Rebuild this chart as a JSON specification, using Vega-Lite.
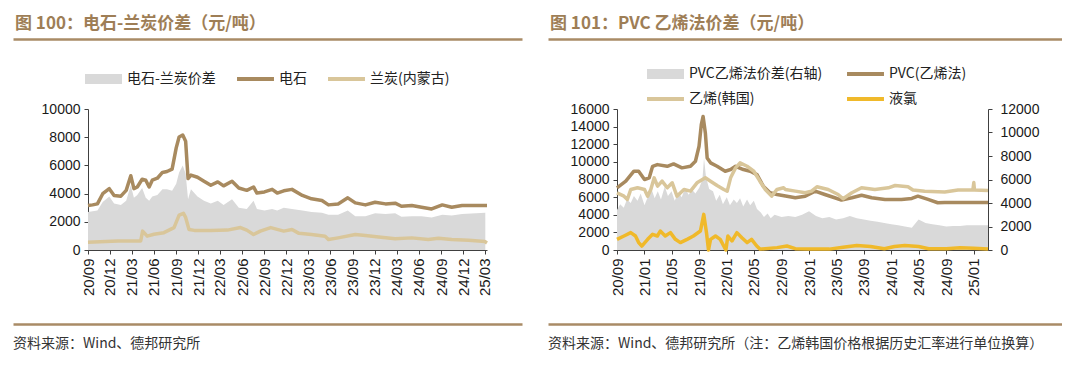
{
  "$schema": "https://vega.github.io/schema/vega-lite/v6.json",
  "background": "white",
  "padding": {"left": 13, "top": 15, "right": 0, "bottom": 0},
  "config": {
    "view": {"stroke": null},
    "font": "Noto Sans CJK SC",
    "axis": {"grid": false, "domainColor": "#404040", "tickColor": "#404040", "labelColor": "#1a1a1a", "labelFont": "Liberation Sans", "labelFontSize": 14, "tickSize": 4}
  },
  "datasets": {
    "one": [{"x": 0.5}],
    "left": [
      {"d":"2020-09-01","s":"电石-兰炭价差","v":2700},{"d":"2020-10-10","s":"电石-兰炭价差","v":2800},{"d":"2020-11-01","s":"电石-兰炭价差","v":3400},{"d":"2020-11-28","s":"电石-兰炭价差","v":3800},{"d":"2020-12-18","s":"电石-兰炭价差","v":3300},{"d":"2021-01-15","s":"电石-兰炭价差","v":3200},{"d":"2021-02-06","s":"电石-兰炭价差","v":3500},{"d":"2021-02-25","s":"电石-兰炭价差","v":4600},{"d":"2021-03-10","s":"电石-兰炭价差","v":3700},{"d":"2021-03-24","s":"电石-兰炭价差","v":3900},{"d":"2021-04-13","s":"电石-兰炭价差","v":4400},{"d":"2021-04-28","s":"电石-兰炭价差","v":3700},{"d":"2021-05-12","s":"电石-兰炭价差","v":3500},{"d":"2021-05-25","s":"电石-兰炭价差","v":3800},{"d":"2021-06-15","s":"电石-兰炭价差","v":3900},{"d":"2021-07-06","s":"电石-兰炭价差","v":4300},{"d":"2021-07-25","s":"电石-兰炭价差","v":4300},{"d":"2021-08-15","s":"电石-兰炭价差","v":4200},{"d":"2021-09-01","s":"电石-兰炭价差","v":4700},{"d":"2021-09-13","s":"电石-兰炭价差","v":5500},{"d":"2021-09-28","s":"电石-兰炭价差","v":6000},{"d":"2021-10-10","s":"电石-兰炭价差","v":5400},{"d":"2021-10-20","s":"电石-兰炭价差","v":3600},{"d":"2021-11-01","s":"电石-兰炭价差","v":4300},{"d":"2021-11-28","s":"电石-兰炭价差","v":3800},{"d":"2021-12-25","s":"电石-兰炭价差","v":3500},{"d":"2022-01-22","s":"电石-兰炭价差","v":3300},{"d":"2022-02-20","s":"电石-兰炭价差","v":3500},{"d":"2022-03-16","s":"电石-兰炭价差","v":3200},{"d":"2022-04-20","s":"电石-兰炭价差","v":3600},{"d":"2022-05-18","s":"电石-兰炭价差","v":3000},{"d":"2022-06-20","s":"电石-兰炭价差","v":2900},{"d":"2022-07-18","s":"电石-兰炭价差","v":3500},{"d":"2022-08-01","s":"电石-兰炭价差","v":2900},{"d":"2022-09-01","s":"电石-兰炭价差","v":2800},{"d":"2022-10-03","s":"电石-兰炭价差","v":2900},{"d":"2022-10-24","s":"电石-兰炭价差","v":2800},{"d":"2022-11-20","s":"电石-兰炭价差","v":3000},{"d":"2022-12-24","s":"电石-兰炭价差","v":2900},{"d":"2023-02-05","s":"电石-兰炭价差","v":2800},{"d":"2023-03-15","s":"电石-兰炭价差","v":2700},{"d":"2023-04-27","s":"电石-兰炭价差","v":2650},{"d":"2023-05-24","s":"电石-兰炭价差","v":2500},{"d":"2023-07-03","s":"电石-兰炭价差","v":2500},{"d":"2023-08-12","s":"电石-兰炭价差","v":2800},{"d":"2023-09-12","s":"电石-兰炭价差","v":2400},{"d":"2023-10-24","s":"电石-兰炭价差","v":2400},{"d":"2023-12-03","s":"电石-兰炭价差","v":2600},{"d":"2024-01-15","s":"电石-兰炭价差","v":2550},{"d":"2024-02-24","s":"电石-兰炭价差","v":2600},{"d":"2024-03-21","s":"电石-兰炭价差","v":2350},{"d":"2024-05-03","s":"电石-兰炭价差","v":2400},{"d":"2024-06-12","s":"电石-兰炭价差","v":2400},{"d":"2024-07-24","s":"电石-兰炭价差","v":2300},{"d":"2024-09-06","s":"电石-兰炭价差","v":2500},{"d":"2024-10-15","s":"电石-兰炭价差","v":2450},{"d":"2024-11-27","s":"电石-兰炭价差","v":2550},{"d":"2025-03-03","s":"电石-兰炭价差","v":2650},
      {"d":"2020-09-01","s":"电石","v":3150},{"d":"2020-09-20","s":"电石","v":3200},{"d":"2020-10-10","s":"电石","v":3270},{"d":"2020-11-01","s":"电石","v":3990},{"d":"2020-11-28","s":"电石","v":4350},{"d":"2020-12-18","s":"电石","v":3870},{"d":"2021-01-15","s":"电石","v":3820},{"d":"2021-02-06","s":"电石","v":4230},{"d":"2021-02-25","s":"电石","v":5270},{"d":"2021-03-10","s":"电石","v":4350},{"d":"2021-03-24","s":"电石","v":4470},{"d":"2021-04-13","s":"电石","v":5020},{"d":"2021-04-28","s":"电石","v":4950},{"d":"2021-05-12","s":"电石","v":4470},{"d":"2021-05-25","s":"电石","v":4950},{"d":"2021-06-15","s":"电石","v":5090},{"d":"2021-07-06","s":"电石","v":5500},{"d":"2021-07-25","s":"电石","v":5570},{"d":"2021-08-15","s":"电石","v":5740},{"d":"2021-09-01","s":"电石","v":7240},{"d":"2021-09-13","s":"电石","v":8010},{"d":"2021-09-28","s":"电石","v":8150},{"d":"2021-10-10","s":"电石","v":7720},{"d":"2021-10-20","s":"电石","v":5070},{"d":"2021-11-01","s":"电石","v":5310},{"d":"2021-11-28","s":"电石","v":5160},{"d":"2021-12-25","s":"电石","v":4880},{"d":"2022-01-22","s":"电石","v":4590},{"d":"2022-02-20","s":"电石","v":4830},{"d":"2022-03-16","s":"电石","v":4550},{"d":"2022-04-20","s":"电石","v":4880},{"d":"2022-05-18","s":"电石","v":4400},{"d":"2022-06-20","s":"电石","v":4230},{"d":"2022-07-18","s":"电石","v":4470},{"d":"2022-08-01","s":"电石","v":4040},{"d":"2022-09-01","s":"电石","v":4120},{"d":"2022-10-03","s":"电石","v":4300},{"d":"2022-10-24","s":"电石","v":4040},{"d":"2022-11-20","s":"电石","v":4200},{"d":"2022-12-24","s":"电石","v":4300},{"d":"2023-02-05","s":"电石","v":3870},{"d":"2023-03-15","s":"电石","v":3630},{"d":"2023-04-27","s":"电石","v":3510},{"d":"2023-05-24","s":"电石","v":3200},{"d":"2023-07-03","s":"电石","v":3270},{"d":"2023-08-12","s":"电石","v":3700},{"d":"2023-09-12","s":"电石","v":3340},{"d":"2023-10-24","s":"电石","v":3200},{"d":"2023-12-03","s":"电石","v":3390},{"d":"2024-01-15","s":"电石","v":3270},{"d":"2024-02-24","s":"电石","v":3320},{"d":"2024-03-21","s":"电石","v":3100},{"d":"2024-05-03","s":"电石","v":3150},{"d":"2024-06-12","s":"电石","v":3030},{"d":"2024-07-24","s":"电石","v":2910},{"d":"2024-09-06","s":"电石","v":3200},{"d":"2024-10-15","s":"电石","v":3030},{"d":"2024-11-27","s":"电石","v":3150},{"d":"2025-03-10","s":"电石","v":3150},
      {"d":"2020-09-01","s":"兰炭(内蒙古)","v":550},{"d":"2021-01-03","s":"兰炭(内蒙古)","v":640},{"d":"2021-04-07","s":"兰炭(内蒙古)","v":640},{"d":"2021-04-15","s":"兰炭(内蒙古)","v":1340},{"d":"2021-05-04","s":"兰炭(内蒙古)","v":980},{"d":"2021-06-01","s":"兰炭(内蒙古)","v":1120},{"d":"2021-07-12","s":"兰炭(内蒙古)","v":1230},{"d":"2021-08-23","s":"兰炭(内蒙古)","v":1590},{"d":"2021-09-13","s":"兰炭(内蒙古)","v":2470},{"d":"2021-10-01","s":"兰炭(内蒙古)","v":2600},{"d":"2021-10-10","s":"兰炭(内蒙古)","v":2310},{"d":"2021-10-24","s":"兰炭(内蒙古)","v":1460},{"d":"2021-11-15","s":"兰炭(内蒙古)","v":1390},{"d":"2022-01-22","s":"兰炭(内蒙古)","v":1390},{"d":"2022-04-01","s":"兰炭(内蒙古)","v":1410},{"d":"2022-05-25","s":"兰炭(内蒙古)","v":1590},{"d":"2022-06-20","s":"兰炭(内蒙古)","v":1410},{"d":"2022-07-18","s":"兰炭(内蒙古)","v":1100},{"d":"2022-08-15","s":"兰炭(内蒙古)","v":1340},{"d":"2022-09-27","s":"兰炭(内蒙古)","v":1590},{"d":"2022-11-20","s":"兰炭(内蒙古)","v":1340},{"d":"2022-12-24","s":"兰炭(内蒙古)","v":1460},{"d":"2023-01-22","s":"兰炭(内蒙古)","v":1180},{"d":"2023-03-15","s":"兰炭(内蒙古)","v":1100},{"d":"2023-05-10","s":"兰炭(内蒙古)","v":980},{"d":"2023-05-24","s":"兰炭(内蒙古)","v":740},{"d":"2023-07-03","s":"兰炭(内蒙古)","v":860},{"d":"2023-09-12","s":"兰炭(内蒙古)","v":1100},{"d":"2023-10-24","s":"兰炭(内蒙古)","v":1030},{"d":"2023-12-18","s":"兰炭(内蒙古)","v":930},{"d":"2024-02-24","s":"兰炭(内蒙古)","v":790},{"d":"2024-05-03","s":"兰炭(内蒙古)","v":860},{"d":"2024-07-10","s":"兰炭(内蒙古)","v":740},{"d":"2024-08-21","s":"兰炭(内蒙古)","v":830},{"d":"2024-10-15","s":"兰炭(内蒙古)","v":740},{"d":"2024-12-24","s":"兰炭(内蒙古)","v":690},{"d":"2025-03-01","s":"兰炭(内蒙古)","v":600},{"d":"2025-03-10","s":"兰炭(内蒙古)","v":500}
    ],
    "right": [
      {"d":"2020-09-01","s":"PVC乙烯法价差(右轴)","v":3400},{"d":"2020-09-15","s":"PVC乙烯法价差(右轴)","v":3900},{"d":"2020-10-01","s":"PVC乙烯法价差(右轴)","v":3600},{"d":"2020-10-15","s":"PVC乙烯法价差(右轴)","v":4300},{"d":"2020-11-01","s":"PVC乙烯法价差(右轴)","v":4000},{"d":"2020-11-15","s":"PVC乙烯法价差(右轴)","v":4600},{"d":"2020-12-01","s":"PVC乙烯法价差(右轴)","v":4200},{"d":"2020-12-15","s":"PVC乙烯法价差(右轴)","v":4800},{"d":"2021-01-01","s":"PVC乙烯法价差(右轴)","v":3800},{"d":"2021-01-15","s":"PVC乙烯法价差(右轴)","v":4500},{"d":"2021-02-01","s":"PVC乙烯法价差(右轴)","v":5200},{"d":"2021-02-15","s":"PVC乙烯法价差(右轴)","v":4400},{"d":"2021-03-01","s":"PVC乙烯法价差(右轴)","v":5000},{"d":"2021-03-15","s":"PVC乙烯法价差(右轴)","v":4300},{"d":"2021-04-01","s":"PVC乙烯法价差(右轴)","v":5400},{"d":"2021-04-15","s":"PVC乙烯法价差(右轴)","v":4600},{"d":"2021-05-01","s":"PVC乙烯法价差(右轴)","v":5000},{"d":"2021-05-15","s":"PVC乙烯法价差(右轴)","v":4200},{"d":"2021-06-01","s":"PVC乙烯法价差(右轴)","v":4900},{"d":"2021-06-15","s":"PVC乙烯法价差(右轴)","v":4500},{"d":"2021-07-01","s":"PVC乙烯法价差(右轴)","v":5300},{"d":"2021-07-15","s":"PVC乙烯法价差(右轴)","v":4700},{"d":"2021-08-01","s":"PVC乙烯法价差(右轴)","v":5100},{"d":"2021-08-15","s":"PVC乙烯法价差(右轴)","v":4800},{"d":"2021-09-01","s":"PVC乙烯法价差(右轴)","v":5300},{"d":"2021-09-15","s":"PVC乙烯法价差(右轴)","v":6000},{"d":"2021-09-22","s":"PVC乙烯法价差(右轴)","v":7800},{"d":"2021-10-01","s":"PVC乙烯法价差(右轴)","v":6200},{"d":"2021-10-15","s":"PVC乙烯法价差(右轴)","v":5200},{"d":"2021-11-01","s":"PVC乙烯法价差(右轴)","v":5000},{"d":"2021-11-15","s":"PVC乙烯法价差(右轴)","v":4200},{"d":"2021-12-01","s":"PVC乙烯法价差(右轴)","v":4700},{"d":"2021-12-15","s":"PVC乙烯法价差(右轴)","v":3900},{"d":"2022-01-01","s":"PVC乙烯法价差(右轴)","v":4500},{"d":"2022-01-15","s":"PVC乙烯法价差(右轴)","v":3800},{"d":"2022-02-01","s":"PVC乙烯法价差(右轴)","v":4300},{"d":"2022-02-15","s":"PVC乙烯法价差(右轴)","v":4000},{"d":"2022-03-01","s":"PVC乙烯法价差(右轴)","v":4400},{"d":"2022-03-15","s":"PVC乙烯法价差(右轴)","v":3700},{"d":"2022-04-01","s":"PVC乙烯法价差(右轴)","v":4300},{"d":"2022-04-15","s":"PVC乙烯法价差(右轴)","v":3800},{"d":"2022-05-01","s":"PVC乙烯法价差(右轴)","v":4200},{"d":"2022-05-15","s":"PVC乙烯法价差(右轴)","v":3500},{"d":"2022-06-01","s":"PVC乙烯法价差(右轴)","v":3200},{"d":"2022-06-15","s":"PVC乙烯法价差(右轴)","v":2800},{"d":"2022-07-01","s":"PVC乙烯法价差(右轴)","v":3100},{"d":"2022-07-15","s":"PVC乙烯法价差(右轴)","v":2700},{"d":"2022-08-01","s":"PVC乙烯法价差(右轴)","v":3000},{"d":"2022-09-01","s":"PVC乙烯法价差(右轴)","v":2800},{"d":"2022-10-01","s":"PVC乙烯法价差(右轴)","v":2900},{"d":"2022-11-01","s":"PVC乙烯法价差(右轴)","v":2800},{"d":"2022-12-01","s":"PVC乙烯法价差(右轴)","v":3000},{"d":"2023-01-01","s":"PVC乙烯法价差(右轴)","v":3300},{"d":"2023-02-01","s":"PVC乙烯法价差(右轴)","v":2900},{"d":"2023-03-01","s":"PVC乙烯法价差(右轴)","v":2700},{"d":"2023-04-01","s":"PVC乙烯法价差(右轴)","v":2800},{"d":"2023-05-01","s":"PVC乙烯法价差(右轴)","v":2600},{"d":"2023-06-01","s":"PVC乙烯法价差(右轴)","v":2700},{"d":"2023-07-01","s":"PVC乙烯法价差(右轴)","v":2900},{"d":"2023-08-01","s":"PVC乙烯法价差(右轴)","v":2700},{"d":"2023-09-01","s":"PVC乙烯法价差(右轴)","v":2600},{"d":"2023-10-01","s":"PVC乙烯法价差(右轴)","v":2500},{"d":"2023-11-01","s":"PVC乙烯法价差(右轴)","v":2400},{"d":"2023-12-01","s":"PVC乙烯法价差(右轴)","v":2300},{"d":"2024-01-01","s":"PVC乙烯法价差(右轴)","v":2200},{"d":"2024-02-01","s":"PVC乙烯法价差(右轴)","v":2100},{"d":"2024-03-01","s":"PVC乙烯法价差(右轴)","v":2000},{"d":"2024-04-01","s":"PVC乙烯法价差(右轴)","v":1900},{"d":"2024-05-01","s":"PVC乙烯法价差(右轴)","v":2600},{"d":"2024-06-01","s":"PVC乙烯法价差(右轴)","v":2300},{"d":"2024-07-01","s":"PVC乙烯法价差(右轴)","v":2200},{"d":"2024-08-01","s":"PVC乙烯法价差(右轴)","v":2100},{"d":"2024-09-01","s":"PVC乙烯法价差(右轴)","v":2000},{"d":"2024-10-01","s":"PVC乙烯法价差(右轴)","v":2050},{"d":"2024-11-01","s":"PVC乙烯法价差(右轴)","v":2050},{"d":"2024-12-01","s":"PVC乙烯法价差(右轴)","v":2100},{"d":"2025-01-01","s":"PVC乙烯法价差(右轴)","v":2100},{"d":"2025-02-01","s":"PVC乙烯法价差(右轴)","v":2100},{"d":"2025-03-05","s":"PVC乙烯法价差(右轴)","v":2100},
      {"d":"2020-09-01","s":"PVC(乙烯法)","v":7060},{"d":"2020-10-10","s":"PVC(乙烯法)","v":7810},{"d":"2020-11-15","s":"PVC(乙烯法)","v":8940},{"d":"2020-12-06","s":"PVC(乙烯法)","v":8940},{"d":"2021-01-01","s":"PVC(乙烯法)","v":8000},{"d":"2021-01-22","s":"PVC(乙烯法)","v":8190},{"d":"2021-02-06","s":"PVC(乙烯法)","v":9500},{"d":"2021-02-27","s":"PVC(乙烯法)","v":9690},{"d":"2021-04-12","s":"PVC(乙烯法)","v":9500},{"d":"2021-05-10","s":"PVC(乙烯法)","v":9770},{"d":"2021-06-16","s":"PVC(乙烯法)","v":9320},{"d":"2021-07-24","s":"PVC(乙烯法)","v":9500},{"d":"2021-08-15","s":"PVC(乙烯法)","v":10070},{"d":"2021-08-31","s":"PVC(乙烯法)","v":11770},{"d":"2021-09-10","s":"PVC(乙烯法)","v":14220},{"d":"2021-09-18","s":"PVC(乙烯法)","v":15160},{"d":"2021-09-28","s":"PVC(乙烯法)","v":13280},{"d":"2021-10-06","s":"PVC(乙烯法)","v":10450},{"d":"2021-10-21","s":"PVC(乙烯法)","v":9890},{"d":"2021-11-19","s":"PVC(乙烯法)","v":9500},{"d":"2021-12-25","s":"PVC(乙烯法)","v":8940},{"d":"2022-01-18","s":"PVC(乙烯法)","v":9130},{"d":"2022-02-09","s":"PVC(乙烯法)","v":9500},{"d":"2022-03-16","s":"PVC(乙烯法)","v":9130},{"d":"2022-04-15","s":"PVC(乙烯法)","v":8940},{"d":"2022-05-15","s":"PVC(乙烯法)","v":8560},{"d":"2022-06-12","s":"PVC(乙烯法)","v":7240},{"d":"2022-07-12","s":"PVC(乙烯法)","v":6490},{"d":"2022-08-12","s":"PVC(乙烯法)","v":6300},{"d":"2022-09-25","s":"PVC(乙烯法)","v":6110},{"d":"2022-11-01","s":"PVC(乙烯法)","v":5930},{"d":"2022-12-15","s":"PVC(乙烯法)","v":6110},{"d":"2023-01-28","s":"PVC(乙烯法)","v":6680},{"d":"2023-03-12","s":"PVC(乙烯法)","v":6300},{"d":"2023-04-25","s":"PVC(乙烯法)","v":5930},{"d":"2023-05-25","s":"PVC(乙烯法)","v":5660},{"d":"2023-07-10","s":"PVC(乙烯法)","v":5930},{"d":"2023-08-22","s":"PVC(乙烯法)","v":6220},{"d":"2023-10-06","s":"PVC(乙烯法)","v":5930},{"d":"2023-12-04","s":"PVC(乙烯法)","v":5740},{"d":"2024-02-15","s":"PVC(乙烯法)","v":5740},{"d":"2024-04-01","s":"PVC(乙烯法)","v":5850},{"d":"2024-04-28","s":"PVC(乙烯法)","v":6110},{"d":"2024-06-12","s":"PVC(乙烯法)","v":5740},{"d":"2024-07-25","s":"PVC(乙烯法)","v":5360},{"d":"2024-08-25","s":"PVC(乙烯法)","v":5400},{"d":"2025-03-05","s":"PVC(乙烯法)","v":5400},
      {"d":"2020-09-01","s":"乙烯(韩国)","v":6490},{"d":"2020-10-02","s":"乙烯(韩国)","v":6110},{"d":"2020-10-17","s":"乙烯(韩国)","v":5740},{"d":"2020-11-01","s":"乙烯(韩国)","v":6870},{"d":"2020-12-01","s":"乙烯(韩国)","v":7060},{"d":"2021-01-01","s":"乙烯(韩国)","v":6870},{"d":"2021-01-15","s":"乙烯(韩国)","v":6110},{"d":"2021-01-29","s":"乙烯(韩国)","v":6870},{"d":"2021-02-13","s":"乙烯(韩国)","v":8190},{"d":"2021-02-28","s":"乙烯(韩国)","v":7240},{"d":"2021-03-20","s":"乙烯(韩国)","v":7810},{"d":"2021-04-12","s":"乙烯(韩国)","v":7060},{"d":"2021-05-04","s":"乙烯(韩国)","v":7620},{"d":"2021-05-25","s":"乙烯(韩国)","v":6110},{"d":"2021-06-25","s":"乙烯(韩国)","v":6870},{"d":"2021-07-24","s":"乙烯(韩国)","v":6680},{"d":"2021-08-22","s":"乙烯(韩国)","v":7620},{"d":"2021-09-28","s":"乙烯(韩国)","v":8190},{"d":"2021-10-21","s":"乙烯(韩国)","v":7810},{"d":"2021-11-19","s":"乙烯(韩国)","v":7320},{"d":"2021-12-19","s":"乙烯(韩国)","v":6870},{"d":"2022-01-03","s":"乙烯(韩国)","v":6680},{"d":"2022-01-18","s":"乙烯(韩国)","v":8190},{"d":"2022-02-09","s":"乙烯(韩国)","v":9320},{"d":"2022-03-01","s":"乙烯(韩国)","v":9890},{"d":"2022-04-01","s":"乙烯(韩国)","v":9500},{"d":"2022-05-01","s":"乙烯(韩国)","v":8940},{"d":"2022-05-28","s":"乙烯(韩国)","v":7810},{"d":"2022-06-21","s":"乙烯(韩国)","v":6870},{"d":"2022-07-19","s":"乙烯(韩国)","v":6110},{"d":"2022-08-12","s":"乙烯(韩国)","v":6870},{"d":"2022-09-10","s":"乙烯(韩国)","v":7060},{"d":"2022-09-18","s":"乙烯(韩国)","v":6870},{"d":"2022-11-01","s":"乙烯(韩国)","v":6680},{"d":"2022-12-15","s":"乙烯(韩国)","v":6490},{"d":"2023-01-12","s":"乙烯(韩国)","v":6680},{"d":"2023-02-05","s":"乙烯(韩国)","v":7170},{"d":"2023-03-27","s":"乙烯(韩国)","v":6870},{"d":"2023-05-10","s":"乙烯(韩国)","v":6300},{"d":"2023-06-01","s":"乙烯(韩国)","v":5810},{"d":"2023-07-10","s":"乙烯(韩国)","v":6490},{"d":"2023-08-22","s":"乙烯(韩国)","v":7060},{"d":"2023-10-20","s":"乙烯(韩国)","v":6870},{"d":"2023-12-19","s":"乙烯(韩国)","v":7060},{"d":"2024-01-18","s":"乙烯(韩国)","v":7320},{"d":"2024-03-15","s":"乙烯(韩国)","v":7170},{"d":"2024-04-06","s":"乙烯(韩国)","v":6800},{"d":"2024-05-28","s":"乙烯(韩国)","v":6680},{"d":"2024-08-25","s":"乙烯(韩国)","v":6590},{"d":"2024-10-23","s":"乙烯(韩国)","v":6800},{"d":"2024-12-28","s":"乙烯(韩国)","v":6800},{"d":"2025-01-01","s":"乙烯(韩国)","v":7650},{"d":"2025-01-04","s":"乙烯(韩国)","v":6800},{"d":"2025-03-05","s":"乙烯(韩国)","v":6750},
      {"d":"2020-09-01","s":"液氯","v":1210},{"d":"2020-10-02","s":"液氯","v":1590},{"d":"2020-11-01","s":"液氯","v":1970},{"d":"2020-11-22","s":"液氯","v":1590},{"d":"2020-12-06","s":"液氯","v":840},{"d":"2020-12-20","s":"液氯","v":450},{"d":"2021-01-15","s":"液氯","v":1210},{"d":"2021-02-06","s":"液氯","v":1780},{"d":"2021-02-27","s":"液氯","v":1590},{"d":"2021-03-12","s":"液氯","v":2150},{"d":"2021-04-03","s":"液氯","v":1590},{"d":"2021-04-26","s":"液氯","v":1970},{"d":"2021-05-18","s":"液氯","v":1210},{"d":"2021-06-09","s":"液氯","v":840},{"d":"2021-07-09","s":"液氯","v":1210},{"d":"2021-08-06","s":"液氯","v":1590},{"d":"2021-09-06","s":"液氯","v":2150},{"d":"2021-09-21","s":"液氯","v":4040},{"d":"2021-10-03","s":"液氯","v":1970},{"d":"2021-10-12","s":"液氯","v":0},{"d":"2021-10-21","s":"液氯","v":1210},{"d":"2021-11-12","s":"液氯","v":1590},{"d":"2021-12-03","s":"液氯","v":1210},{"d":"2021-12-28","s":"液氯","v":0},{"d":"2022-01-06","s":"液氯","v":1590},{"d":"2022-01-24","s":"液氯","v":1020},{"d":"2022-02-15","s":"液氯","v":1970},{"d":"2022-03-09","s":"液氯","v":1400},{"d":"2022-04-01","s":"液氯","v":840},{"d":"2022-04-21","s":"液氯","v":1210},{"d":"2022-05-14","s":"液氯","v":450},{"d":"2022-05-28","s":"液氯","v":100},{"d":"2022-08-12","s":"液氯","v":270},{"d":"2022-09-25","s":"液氯","v":450},{"d":"2022-11-01","s":"液氯","v":150},{"d":"2023-01-01","s":"液氯","v":100},{"d":"2023-04-01","s":"液氯","v":100},{"d":"2023-06-01","s":"液氯","v":300},{"d":"2023-08-01","s":"液氯","v":500},{"d":"2023-10-01","s":"液氯","v":400},{"d":"2023-12-01","s":"液氯","v":150},{"d":"2024-01-15","s":"液氯","v":400},{"d":"2024-03-01","s":"液氯","v":500},{"d":"2024-05-01","s":"液氯","v":400},{"d":"2024-06-15","s":"液氯","v":150},{"d":"2024-09-01","s":"液氯","v":150},{"d":"2024-11-01","s":"液氯","v":250},{"d":"2025-01-01","s":"液氯","v":200},{"d":"2025-03-05","s":"液氯","v":100}
    ]
  },
  "spacing": 28,
  "resolve": {"scale": {"color": "independent", "shape": "independent"}, "legend": {"color": "independent", "shape": "independent"}},
  "vconcat": [
    {
      "spacing": 26,
      "hconcat": [
        {
          "data": {"name": "one"},
          "width": 509, "height": 1,
          "title": {"text": "图 100：电石-兰炭价差（元/吨）", "anchor": "start", "frame": "group", "fontSize": 17, "fontWeight": "bold", "color": "#9E7E56", "font": "Noto Sans CJK SC", "baseline": "alphabetic", "offset": -8, "dx": 2},
          "mark": {"type": "point", "size": 0, "opacity": 0},
          "encoding": {"x": {"field": "x", "type": "quantitative", "title": null, "scale": {"domain": [0, 1]}, "axis": {"domain": true, "domainColor": "#A98B66", "domainWidth": 2.5, "ticks": false, "labels": false, "grid": false}}}
        },
        {
          "data": {"name": "one"},
          "width": 514, "height": 1,
          "title": {"text": "图 101：PVC 乙烯法价差（元/吨）", "anchor": "start", "frame": "group", "fontSize": 17, "fontWeight": "bold", "color": "#9E7E56", "font": "Noto Sans CJK SC", "baseline": "alphabetic", "offset": -8, "dx": 2},
          "mark": {"type": "point", "size": 0, "opacity": 0},
          "encoding": {"x": {"field": "x", "type": "quantitative", "title": null, "scale": {"domain": [0, 1]}, "axis": {"domain": true, "domainColor": "#A98B66", "domainWidth": 2.5, "ticks": false, "labels": false, "grid": false}}}
        }
      ]
    },
    {
      "spacing": 56,
      "resolve": {"scale": {"color": "independent", "shape": "independent"}, "legend": {"color": "independent", "shape": "independent"}},
      "hconcat": [
        {
          "width": 474, "height": 141,
          "data": {"name": "left"},
          "encoding": {
            "x": {"field": "d", "type": "temporal", "title": null,
              "scale": {"type": "utc", "rangeMin": 75, "domain": [{"year": 2020, "month": 9, "date": 1, "utc": true}, {"year": 2025, "month": 3, "date": 10, "utc": true}]},
              "axis": {"format": "%y/%m", "labelAngle": -90, "labelFontSize": 15, "labelPadding": 4, "labelOverlap": false, "labelFlush": false, "labelBound": false,
                "values": [
                  {"year": 2020, "month": 9, "date": 1, "utc": true}, {"year": 2020, "month": 12, "date": 1, "utc": true},
                  {"year": 2021, "month": 3, "date": 1, "utc": true}, {"year": 2021, "month": 6, "date": 1, "utc": true}, {"year": 2021, "month": 9, "date": 1, "utc": true}, {"year": 2021, "month": 12, "date": 1, "utc": true},
                  {"year": 2022, "month": 3, "date": 1, "utc": true}, {"year": 2022, "month": 6, "date": 1, "utc": true}, {"year": 2022, "month": 9, "date": 1, "utc": true}, {"year": 2022, "month": 12, "date": 1, "utc": true},
                  {"year": 2023, "month": 3, "date": 1, "utc": true}, {"year": 2023, "month": 6, "date": 1, "utc": true}, {"year": 2023, "month": 9, "date": 1, "utc": true}, {"year": 2023, "month": 12, "date": 1, "utc": true},
                  {"year": 2024, "month": 3, "date": 1, "utc": true}, {"year": 2024, "month": 6, "date": 1, "utc": true}, {"year": 2024, "month": 9, "date": 1, "utc": true}, {"year": 2024, "month": 12, "date": 1, "utc": true},
                  {"year": 2025, "month": 3, "date": 1, "utc": true}
                ]}},
            "y": {"field": "v", "type": "quantitative", "title": null, "scale": {"domain": [0, 10000]},
              "axis": {"values": [0, 2000, 4000, 6000, 8000, 10000], "format": "d", "offset": -75, "labelPadding": 4}}
          },
          "layer": [
            {"transform": [{"filter": "datum.s === '电石-兰炭价差'"}], "mark": {"type": "area", "color": "#D9D9D9"}},
            {"transform": [{"filter": "datum.s === '电石'"}], "mark": {"type": "line", "color": "#A88A5F", "strokeWidth": 3.5, "strokeJoin": "round"}},
            {"transform": [{"filter": "datum.s === '兰炭(内蒙古)'"}], "mark": {"type": "line", "color": "#D9C69A", "strokeWidth": 3.5, "strokeJoin": "round"}},
            {
              "mark": {"type": "point", "filled": true, "size": 0, "opacity": 0},
              "encoding": {
                "color": {"field": "s", "type": "nominal", "scale": {"domain": ["电石-兰炭价差", "电石", "兰炭(内蒙古)"], "range": ["#D9D9D9", "#A88A5F", "#D9C69A"]},
                  "legend": {"title": null, "orient": "none", "legendX": 72, "legendY": -37, "direction": "horizontal", "symbolSize": 196, "symbolOffset": 11.5, "symbolStrokeWidth": 0, "symbolOpacity": 1, "labelFont": "Noto Sans CJK SC", "labelFontSize": 14, "labelColor": "#222222", "labelOffset": 16.5, "columnPadding": 21, "padding": 0, "labelLimit": 300, "encode": {"symbols": {"update": {"opacity": {"value": 1}, "size": {"value": 196}}}}}},
                "shape": {"field": "s", "type": "nominal", "scale": {"domain": ["电石-兰炭价差", "电石", "兰炭(内蒙古)"], "range": ["M-2.64,-0.71H2.64V0.71H-2.64Z", "M-2.64,-0.29H2.64V0.29H-2.64Z", "M-2.64,-0.29H2.64V0.29H-2.64Z"]},
                  "legend": {"title": null, "orient": "none", "legendX": 72, "legendY": -37, "direction": "horizontal", "symbolSize": 196, "symbolOffset": 11.5, "symbolStrokeWidth": 0, "symbolOpacity": 1, "labelFont": "Noto Sans CJK SC", "labelFontSize": 14, "labelColor": "#222222", "labelOffset": 16.5, "columnPadding": 21, "padding": 0, "labelLimit": 300, "encode": {"symbols": {"update": {"opacity": {"value": 1}, "size": {"value": 196}}}}}}
              }
            }
          ]
        },
        {
          "width": 439, "height": 141,
          "data": {"name": "right"},
          "encoding": {
            "x": {"field": "d", "type": "temporal", "title": null,
              "scale": {"type": "utc", "rangeMin": 68, "domain": [{"year": 2020, "month": 9, "date": 1, "utc": true}, {"year": 2025, "month": 3, "date": 5, "utc": true}]},
              "axis": {"format": "%y/%m", "labelAngle": -90, "labelFontSize": 15, "labelPadding": 4, "labelOverlap": false, "labelFlush": false, "labelBound": false,
                "values": [
                  {"year": 2020, "month": 9, "date": 1, "utc": true},
                  {"year": 2021, "month": 1, "date": 1, "utc": true}, {"year": 2021, "month": 5, "date": 1, "utc": true}, {"year": 2021, "month": 9, "date": 1, "utc": true},
                  {"year": 2022, "month": 1, "date": 1, "utc": true}, {"year": 2022, "month": 5, "date": 1, "utc": true}, {"year": 2022, "month": 9, "date": 1, "utc": true},
                  {"year": 2023, "month": 1, "date": 1, "utc": true}, {"year": 2023, "month": 5, "date": 1, "utc": true}, {"year": 2023, "month": 9, "date": 1, "utc": true},
                  {"year": 2024, "month": 1, "date": 1, "utc": true}, {"year": 2024, "month": 5, "date": 1, "utc": true}, {"year": 2024, "month": 9, "date": 1, "utc": true},
                  {"year": 2025, "month": 1, "date": 1, "utc": true}
                ]}}
          },
          "layer": [
            {
              "transform": [{"filter": "datum.s === 'PVC乙烯法价差(右轴)'"}],
              "mark": {"type": "area", "color": "#D9D9D9"},
              "encoding": {"y": {"field": "v", "type": "quantitative", "title": null, "scale": {"domain": [0, 12000]},
                "axis": {"orient": "right", "values": [0, 2000, 4000, 6000, 8000, 10000, 12000], "format": "d", "labelPadding": 8}}}
            },
            {
              "encoding": {"y": {"field": "v", "type": "quantitative", "title": null, "scale": {"domain": [0, 16000]},
                "axis": {"orient": "left", "values": [0, 2000, 4000, 6000, 8000, 10000, 12000, 14000, 16000], "format": "d", "offset": -68, "labelPadding": 4}}},
              "layer": [
                {"transform": [{"filter": "datum.s === 'PVC(乙烯法)'"}], "mark": {"type": "line", "color": "#A88A5F", "strokeWidth": 3.5, "strokeJoin": "round"}},
                {"transform": [{"filter": "datum.s === '乙烯(韩国)'"}], "mark": {"type": "line", "color": "#D9C69A", "strokeWidth": 3.5, "strokeJoin": "round"}},
                {"transform": [{"filter": "datum.s === '液氯'"}], "mark": {"type": "line", "color": "#F0B92A", "strokeWidth": 3.5, "strokeJoin": "round"}},
                {
                  "mark": {"type": "point", "filled": true, "size": 0, "opacity": 0},
                  "encoding": {
                    "color": {"field": "s", "type": "nominal", "scale": {"domain": ["PVC乙烯法价差(右轴)", "PVC(乙烯法)", "乙烯(韩国)", "液氯"], "range": ["#D9D9D9", "#A88A5F", "#D9C69A", "#F0B92A"]},
                      "legend": {"title": null, "orient": "none", "legendX": 98, "legendY": -42, "direction": "horizontal", "columns": 2, "symbolSize": 196, "symbolOffset": 11.5, "symbolStrokeWidth": 0, "symbolOpacity": 1, "labelFont": "Noto Sans CJK SC", "labelFontSize": 14, "labelColor": "#222222", "labelOffset": 16.5, "columnPadding": 24, "rowPadding": 11, "padding": 0, "labelLimit": 300, "encode": {"symbols": {"update": {"opacity": {"value": 1}, "size": {"value": 196}}}}}},
                    "shape": {"field": "s", "type": "nominal", "scale": {"domain": ["PVC乙烯法价差(右轴)", "PVC(乙烯法)", "乙烯(韩国)", "液氯"], "range": ["M-2.64,-0.71H2.64V0.71H-2.64Z", "M-2.64,-0.29H2.64V0.29H-2.64Z", "M-2.64,-0.29H2.64V0.29H-2.64Z", "M-2.64,-0.29H2.64V0.29H-2.64Z"]},
                      "legend": {"title": null, "orient": "none", "legendX": 98, "legendY": -42, "direction": "horizontal", "columns": 2, "symbolSize": 196, "symbolOffset": 11.5, "symbolStrokeWidth": 0, "symbolOpacity": 1, "labelFont": "Noto Sans CJK SC", "labelFontSize": 14, "labelColor": "#222222", "labelOffset": 16.5, "columnPadding": 24, "rowPadding": 11, "padding": 0, "labelLimit": 300, "encode": {"symbols": {"update": {"opacity": {"value": 1}, "size": {"value": 196}}}}}}
                  }
                }
              ]
            }
          ],
          "resolve": {"scale": {"y": "independent"}}
        }
      ]
    },
    {
      "spacing": 26,
      "hconcat": [
        {
          "data": {"name": "one"},
          "width": 509, "height": 1,
          "title": {"text": "资料来源：Wind、德邦研究所", "orient": "bottom", "anchor": "start", "frame": "group", "fontSize": 14, "fontWeight": "normal", "color": "#333333", "font": "Noto Sans CJK SC", "baseline": "top", "offset": 12},
          "mark": {"type": "point", "size": 0, "opacity": 0},
          "encoding": {"x": {"field": "x", "type": "quantitative", "title": null, "scale": {"domain": [0, 1]}, "axis": {"orient": "top", "domain": true, "domainColor": "#A98B66", "domainWidth": 2.5, "ticks": false, "labels": false, "grid": false}}}
        },
        {
          "data": {"name": "one"},
          "width": 514, "height": 1,
          "title": {"text": "资料来源：Wind、德邦研究所（注：乙烯韩国价格根据历史汇率进行单位换算）", "orient": "bottom", "anchor": "start", "frame": "group", "fontSize": 14, "fontWeight": "normal", "color": "#333333", "font": "Noto Sans CJK SC", "baseline": "top", "offset": 12},
          "mark": {"type": "point", "size": 0, "opacity": 0},
          "encoding": {"x": {"field": "x", "type": "quantitative", "title": null, "scale": {"domain": [0, 1]}, "axis": {"orient": "top", "domain": true, "domainColor": "#A98B66", "domainWidth": 2.5, "ticks": false, "labels": false, "grid": false}}}
        }
      ]
    }
  ]
}
